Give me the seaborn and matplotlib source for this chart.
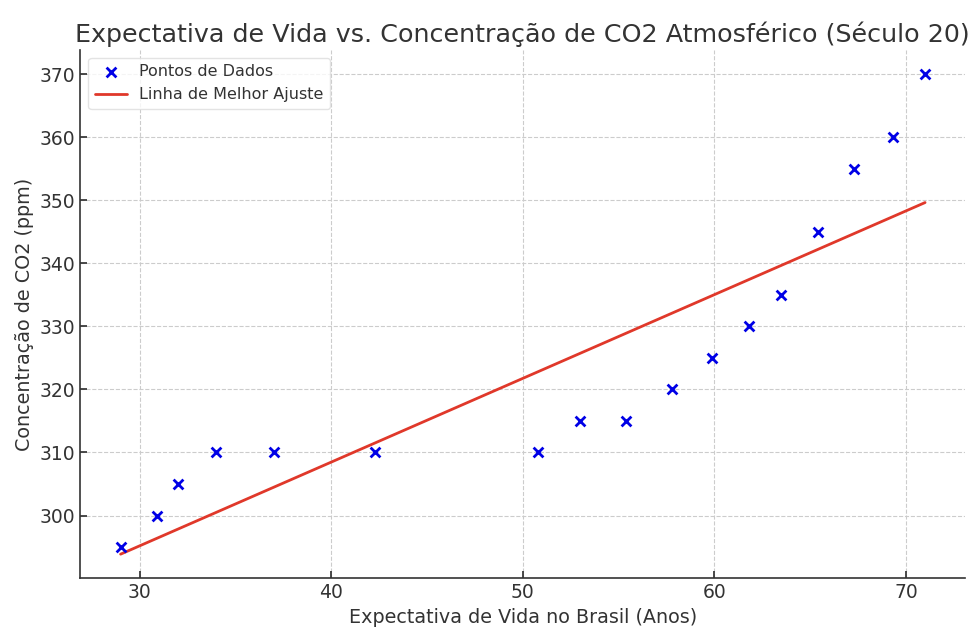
import numpy as np
import pandas as pd
import matplotlib
matplotlib.use("Agg")
import matplotlib.pyplot as plt
import seaborn as sns

# data
life_expectancy = [29.0, 30.9, 32.0, 34.0, 37.0, 42.3, 50.8, 53.0, 55.4,
                   57.8, 59.9, 61.8, 63.5, 65.4, 67.3, 69.3, 71.0]
co2_ppm = [295, 300, 305, 310, 310, 310, 310, 315, 315,
           320, 325, 330, 335, 345, 355, 360, 370]

sns.set_theme(style="whitegrid")
plt.rcParams["font.family"] = ["DejaVu Sans"]
plt.rcParams["text.color"] = "#333333"
plt.rcParams["axes.labelcolor"] = "#333333"

df = pd.DataFrame({"x": life_expectancy, "y": co2_ppm})
slope, intercept = np.polyfit(df.x, df.y, 1)
fit = pd.DataFrame({"x": df.x, "y": slope * df.x + intercept})

fig, ax = plt.subplots(figsize=(9.8, 6.41), dpi=100)
sns.scatterplot(data=df, x="x", y="y", ax=ax, marker="x", color="#0000e6",
                s=50, linewidth=2, label="Pontos de Dados", zorder=3)
sns.lineplot(data=fit, x="x", y="y", ax=ax, color="#e0382a", linewidth=2,
             label="Linha de Melhor Ajuste")

ax.set_title("Expectativa de Vida vs. Concentração de CO2 Atmosférico (Século 20)",
             fontsize=18.3, color="#333333")
ax.set_xlabel("Expectativa de Vida no Brasil (Anos)", fontsize=13.8)
ax.set_ylabel("Concentração de CO2 (ppm)", fontsize=13.8)
ax.tick_params(direction="in", labelsize=13.5, length=5, color="#333333",
               labelcolor="#333333", left=True, bottom=True)
ax.grid(True, linestyle="--", color="#cccccc", linewidth=0.8)
for side in ("top", "right"):
    ax.spines[side].set_visible(False)
for side in ("left", "bottom"):
    ax.spines[side].set_color("#333333")
    ax.spines[side].set_linewidth(1.2)
ax.legend(loc="upper left", fontsize=11.5, frameon=True, edgecolor="#dddddd")

fig.subplots_adjust(left=0.082, right=0.985, top=0.922, bottom=0.098)
fig.savefig("out.png", dpi=100)
